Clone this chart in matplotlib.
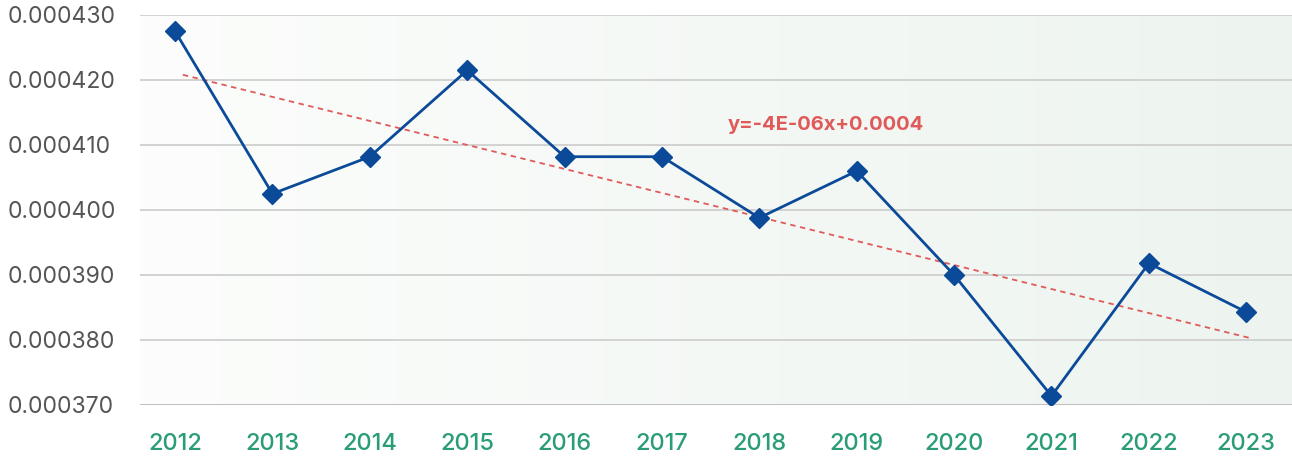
import matplotlib
matplotlib.use("Agg")
import matplotlib.pyplot as plt
import numpy as np
from matplotlib.colors import LinearSegmentedColormap

plt.rcParams["font.family"] = ["Inter", "DejaVu Sans"]

years = ["2012", "2013", "2014", "2015", "2016", "2017",
         "2018", "2019", "2020", "2021", "2022", "2023"]
values = [0.0004275, 0.0004025, 0.0004082, 0.0004215, 0.0004082, 0.0004082,
          0.0003988, 0.0004060, 0.0003900, 0.0003714, 0.0003918, 0.0003843]
yticks = [0.000370, 0.000380, 0.000390, 0.000400, 0.000410, 0.000420, 0.000430]
# trend line ends (2012 -> 2023)
trend_ends = [0.0004208, 0.0003803]

LINE = "#0b4a99"
TREND = "#e05a5a"
XLAB = "#2a9d78"

fig = plt.figure(figsize=(12.92, 4.59), dpi=100)
ax = fig.add_axes([140 / 1292, 54 / 459, 1 - 140 / 1292, 390 / 459])

x = np.arange(len(years))
ax.set_xlim(-0.36, 11.47)
ax.set_ylim(0.000370, 0.000430)

# soft left-to-right background wash
cmap = LinearSegmentedColormap.from_list("wash", ["#fcfdfc", "#edf4ef"])
grad = np.linspace(0, 1, 256).reshape(1, -1)
ax.imshow(grad, cmap=cmap, aspect="auto", extent=[-0.36, 11.47, 0.000370, 0.000430],
          zorder=0)

for yv in yticks:
    ax.axhline(yv, color="#cfcfcf", lw=1.3, zorder=1)
ax.axhline(0.000370, color="#bdbdbd", lw=2, zorder=1)

# linear trend
ax.plot([0.08, 11.04], trend_ends, color=TREND, lw=1.3,
        ls=(0, (3, 2.5)), zorder=2)
ax.text(5.68, 0.0004131, "y=-4E-06x+0.0004", color=TREND, fontsize=14.5,
        fontweight="bold", va="center", ha="left", zorder=4)

ax.plot(x, values, color=LINE, lw=2, marker="D", markersize=10, zorder=3)

for s in ax.spines.values():
    s.set_visible(False)
ax.set_yticks(yticks)
ax.set_yticklabels([f"{v:.6f}" for v in yticks], color="#555555", fontsize=16.5)
for lab in ax.get_yticklabels():
    lab.set_horizontalalignment("left")
ax.set_xticks(x)
ax.set_xticklabels(years, color=XLAB, fontsize=17, fontweight="medium")
ax.tick_params(axis="both", length=0)
ax.tick_params(axis="y", pad=95)
ax.tick_params(axis="x", pad=20)

fig.savefig("out.png", dpi=100)
